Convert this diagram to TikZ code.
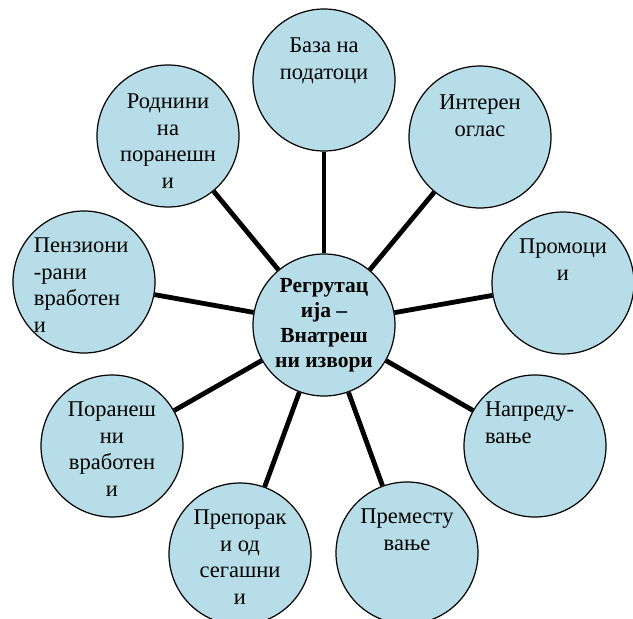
\documentclass[tikz,border=0pt]{standalone}
\usepackage{fontspec}
\setmainfont{Liberation Serif}
\usepackage{tikz}
\definecolor{bubblefill}{RGB}{183,222,232}
\newcommand{\blasentext}[3][t]{\parbox[c][100pt][#1]{100pt}{\fontsize{22.5}{26.5}\selectfont#2 #3}}

\begin{document}
\begin{tikzpicture}[x=1pt,y=-1pt,
	bubble/.style={circle,draw,line width=1.2pt,fill=bubblefill,inner sep=0pt,minimum size=142pt},
	spoke/.style={line width=4.8pt}]
	\useasboundingbox (0,0) rectangle (633,619);
	\node[bubble] (Mitte) at (324,325) {\blasentext[c]{\centering\bfseries\fontsize{21.5}{25}\selectfont}{Регрутац\\ија –\\Внатреш\\ни извори}};
	\node[bubble] (Baza) at (324,80) {\blasentext{\centering\vspace*{8pt}}{База на\\податоци}};
	\node[bubble] (Rodnini) at (168,136) {\blasentext{\centering\vspace*{8pt}}{Роднини\\на\\поранешн\\и}};
	\node[bubble] (Interen) at (480,137) {\blasentext{\centering\vspace*{8pt}}{Интерен\\оглас}};
	\node[bubble] (Penzioni) at (84,282) {\blasentext{\raggedright\vspace*{6pt}}{Пензиони\\-рани\\вработен\\и}};
	\node[bubble] (Promoci) at (563,283) {\blasentext{\centering\vspace*{6pt}}{Промоци\\и}};
	\node[bubble] (Poranesni) at (112,446) {\blasentext{\centering\vspace*{6pt}}{Поранеш\\ни\\вработен\\и}};
	\node[bubble] (Napreduvanje) at (535,446) {\blasentext{\raggedright\vspace*{6pt}}{Напреду-\\вање}};
	\node[bubble] (Preporaki) at (240,554) {\blasentext{\centering\vspace*{6pt}}{Препорак\\и од\\сегашни\\и}};
	\node[bubble] (Premestuvanje) at (407,553) {\blasentext{\centering\vspace*{6pt}}{Преместу\\вање}};
	\foreach \ziel in {Baza,Rodnini,Interen,Penzioni,Promoci,Poranesni,Napreduvanje,Preporaki,Premestuvanje}
		\draw [spoke] (Mitte) -- (\ziel);
\end{tikzpicture}
\end{document}
